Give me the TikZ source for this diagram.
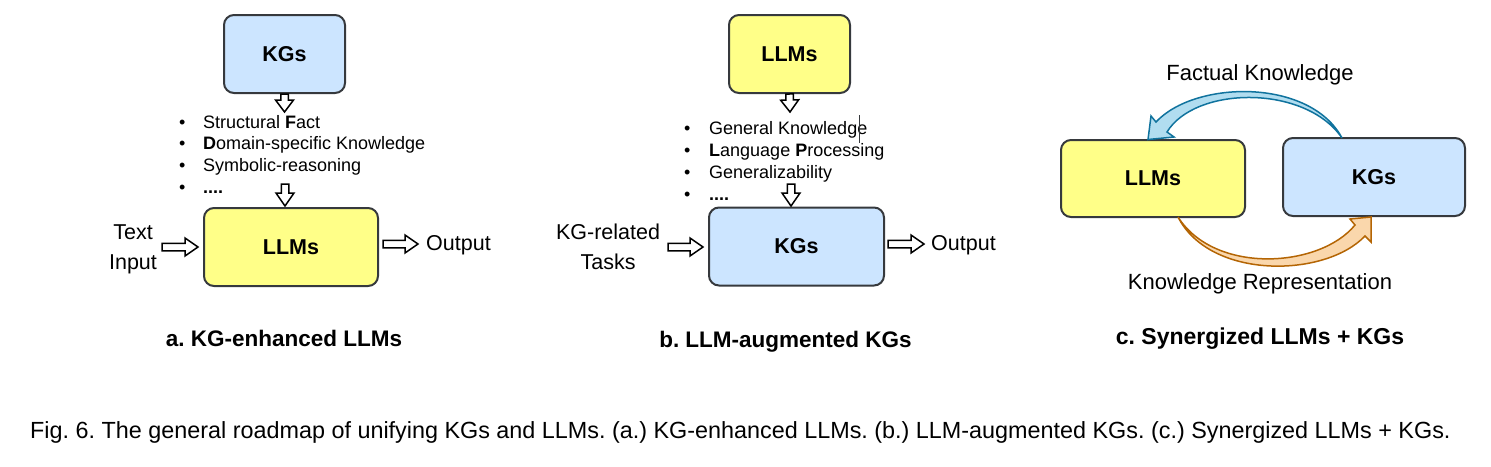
\documentclass[tikz,border=0pt]{standalone}
\usepackage{fontspec}
\setmainfont{Liberation Sans}
\usetikzlibrary{calc}
\definecolor{kgblue}{HTML}{CCE5FF}
\definecolor{llmyellow}{HTML}{FFFF88}
\definecolor{boxline}{HTML}{36393D}
\definecolor{factfill}{HTML}{B1DDF0}
\definecolor{factline}{HTML}{10739E}
\definecolor{reprfill}{HTML}{FAD7AC}
\definecolor{reprline}{HTML}{B46504}
\frenchspacing

% hollow block arrow from #2 to #3, head length #1
\newcommand{\hollowarrow}[3][12]{%
  \coordinate (neck) at ($(#3)!#1pt!(#2)$);
  \draw[hollow] ($(#2)!3.75pt!90:(#3)$) -- ($(neck)!3.75pt!90:(#3)$)
    -- ($(neck)!9pt!90:(#3)$) -- (#3) -- ($(neck)!9pt!-90:(#3)$)
    -- ($(neck)!3.75pt!-90:(#3)$) -- ($(#2)!3.75pt!-90:(#3)$) -- cycle;
}

\begin{document}
\begin{tikzpicture}[
  x=1pt, y=-1pt,
  every node/.style={inner sep=0pt},
  box/.style={draw=boxline, line width=2pt, rounded corners=10pt,
    minimum height=78pt, font=\fontsize{21.5}{26}\selectfont\bfseries},
  kgbox/.style={box, fill=kgblue},
  llmbox/.style={box, fill=llmyellow},
  hollow/.style={draw=black, fill=white, line width=1.5pt, line join=miter},
  itemtext/.style={font=\fontsize{18}{22}\selectfont, anchor=base west},
  plain/.style={font=\fontsize{21.5}{30}\selectfont, align=center},
  subtitle/.style={font=\fontsize{22.5}{27}\selectfont\bfseries, anchor=base}
]
\useasboundingbox (0,0) rectangle (1491,466);

% a. KG-enhanced LLMs
\node[kgbox, minimum width=121pt] (kga) at (284.5,54) {KGs};
\node[llmbox, minimum width=174pt] (llma) at (291,247) {LLMs};
\foreach \txt [count=\i] in {Structural \textbf{F}act,
    \textbf{D}omain-specific Knowledge, Symbolic-reasoning, \textbf{....}}
  \node[itemtext] (facta\i) at (179,106.2+21.8*\i)
    {\makebox[24pt][l]{\textbullet}\txt};
\coordinate (facta-in) at (284.5,112);
\coordinate (facta-out) at (285,184);
\coordinate (llma-in) at (285,206);
\hollowarrow{kga.south}{facta-in}
\hollowarrow[13]{facta-out}{llma-in}
\node[plain] (texta) at (133,249.5) {Text\\Input};
\coordinate (texta-out) at (162,247);
\coordinate (llma-left) at (198,247);
\hollowarrow[13]{texta-out}{llma-left}
\coordinate (llma-out) at (383,244);
\coordinate (outa-in) at (418,244);
\hollowarrow[13]{llma-out}{outa-in}
\node[plain, anchor=base west] (outa) at (426,250) {Output};
\node[subtitle] (capa) at (284,346) {a. KG-enhanced LLMs};

% b. LLM-augmented KGs
\node[llmbox, minimum width=121pt] (llmb) at (789.5,54) {LLMs};
\node[kgbox, minimum width=175pt] (kgb) at (796.5,246.5) {KGs};
\foreach \txt [count=\i] in {General Knowledge,
    \textbf{L}anguage \textbf{P}rocessing, Generalizability, \textbf{....}}
  \node[itemtext] (factb\i) at (684,112.2+22*\i)
    {\makebox[25pt][l]{\textbullet}\txt};
\draw[line width=0.8pt, boxline] (859,115) -- (859,143);
\coordinate (factb-in) at (790,112);
\coordinate (factb-out) at (791,184);
\coordinate (kgb-in) at (791,206);
\hollowarrow{llmb.south}{factb-in}
\hollowarrow[13]{factb-out}{kgb-in}
\node[plain] (taskb) at (608,246.8) {KG-related\\Tasks};
\coordinate (taskb-out) at (668,247);
\coordinate (kgb-left) at (703,247);
\hollowarrow[13]{taskb-out}{kgb-left}
\coordinate (kgb-out) at (888,244);
\coordinate (outb-in) at (924,244);
\hollowarrow[13]{kgb-out}{outb-in}
\node[plain, anchor=base west] (outb) at (931,250) {Output};
\node[subtitle] (capb) at (785.5,347.5) {b. LLM-augmented KGs};

% c. Synergized LLMs + KGs
\node[llmbox, minimum width=184pt, minimum height=77pt] (llmc) at (1153,178.5) {LLMs};
\node[kgbox, minimum width=182pt] (kgc) at (1374,177) {KGs};
\filldraw[fill=factfill, draw=factline, line width=1.5pt, line join=miter]
  (1342,138) .. controls (1310,78) and (1195,80) .. (1156,122)
  -- (1151,116) -- (1148,139.5) -- (1174,137) -- (1167,132)
  .. controls (1195,86) and (1305,84) .. (1342,138) -- cycle;
\filldraw[fill=reprfill, draw=reprline, line width=1.5pt, line join=miter]
  (1178,217) .. controls (1215,275) and (1320,268) .. (1355,225)
  -- (1350,219) -- (1371,217) -- (1371,242) -- (1365,236)
  .. controls (1325,278) and (1210,280) .. (1178,217) -- cycle;
\node[plain, anchor=base, font=\fontsize{22}{30}\selectfont] (factc) at (1260,80.7) {Factual Knowledge};
\node[plain, anchor=base, font=\fontsize{22}{30}\selectfont] (reprc) at (1260,289) {Knowledge Representation};
\node[subtitle, font=\fontsize{23}{27}\selectfont\bfseries] (capc) at (1260,344) {c. Synergized LLMs + KGs};

% figure caption
\node[font=\fontsize{23.37}{28}\selectfont, anchor=base west] (fig) at (30,438)
  {Fig. 6. The general roadmap of unifying KGs and LLMs. (a.) KG-enhanced LLMs. (b.) LLM-augmented KGs. (c.) Synergized LLMs + KGs.};
\end{tikzpicture}
\end{document}
